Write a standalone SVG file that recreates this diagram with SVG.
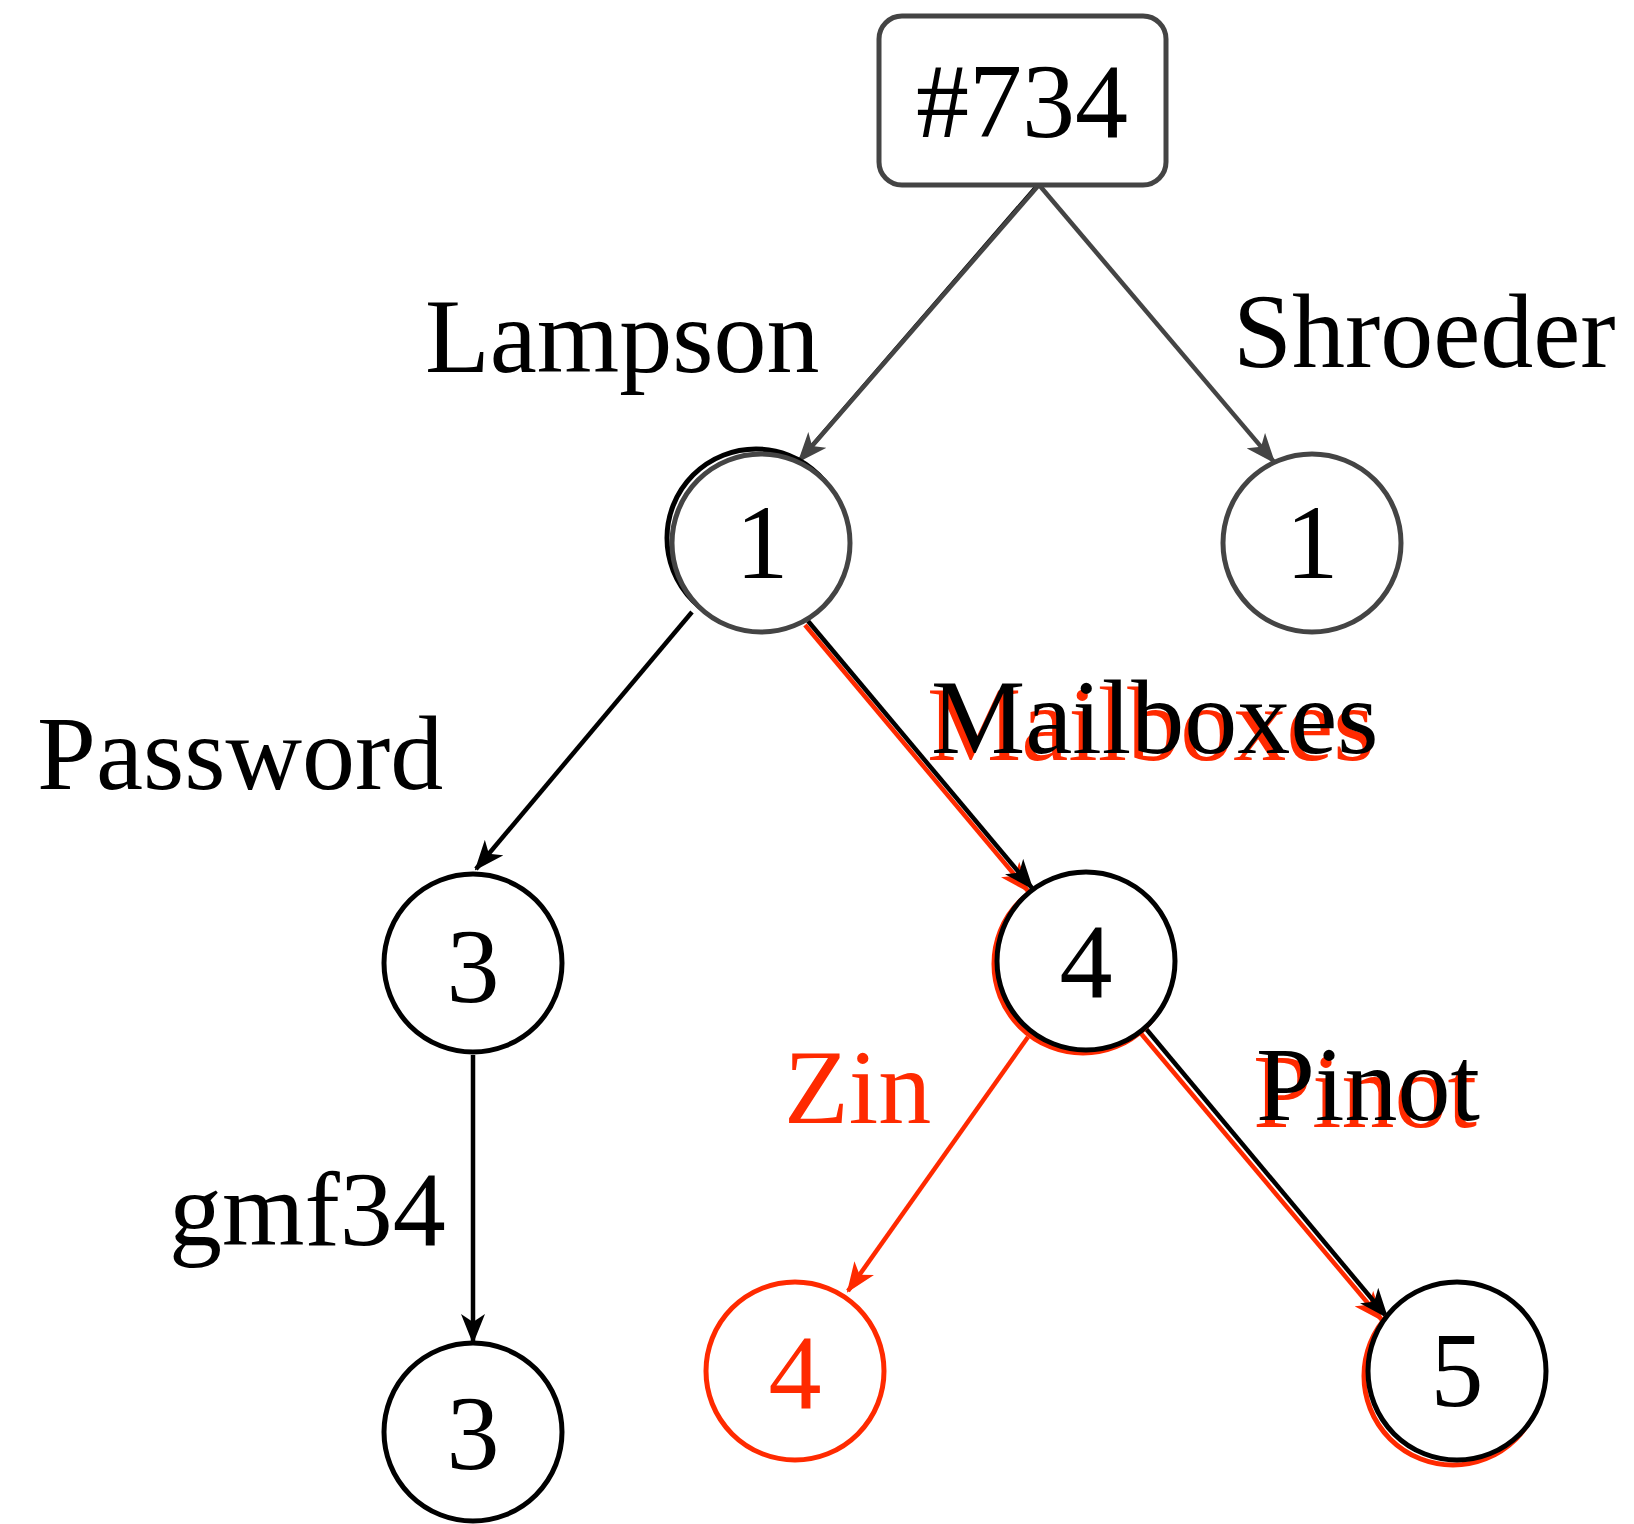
<svg xmlns="http://www.w3.org/2000/svg" width="1634" height="1524" viewBox="0 0 1634 1524">
<style>
  text { font-family: "Liberation Serif", "Times New Roman", serif; font-size: 106px; }
  .k { fill: #000; }
  .r { fill: #ff2a00; }
  .num { text-anchor: middle; }
  .cg { fill: #fff; stroke: #444; stroke-width: 5; }
  .ck { fill: #fff; stroke: #000; stroke-width: 5; }
  .cr { fill: #fff; stroke: #ff2a00; stroke-width: 5; }
  .eg { stroke: #444; stroke-width: 4.5; fill: none; marker-end: url(#ag); }
  .ek { stroke: #000; stroke-width: 4.5; fill: none; marker-end: url(#ak); }
  .er { stroke: #ff2a00; stroke-width: 4.5; fill: none; marker-end: url(#ar); }
</style>
<defs>
  <marker id="ag" viewBox="0 0 30 24" refX="28" refY="12" markerWidth="30" markerHeight="24" markerUnits="userSpaceOnUse" orient="auto">
    <path d="M0,0 L30,12 L0,24 L8,12 Z" fill="#444"/>
  </marker>
  <marker id="ak" viewBox="0 0 30 24" refX="28" refY="12" markerWidth="30" markerHeight="24" markerUnits="userSpaceOnUse" orient="auto">
    <path d="M0,0 L30,12 L0,24 L8,12 Z" fill="#000"/>
  </marker>
  <marker id="ar" viewBox="0 0 30 24" refX="28" refY="12" markerWidth="30" markerHeight="24" markerUnits="userSpaceOnUse" orient="auto">
    <path d="M0,0 L30,12 L0,24 L8,12 Z" fill="#ff2a00"/>
  </marker>
</defs>
<rect width="1634" height="1524" fill="#fff"/>

<g id="connectors">
  <line x1="1035" y1="188" x2="804" y2="455" stroke="#000" stroke-width="4"/>
  <line class="eg" x1="1038" y1="186" x2="799" y2="461"/>
  <line class="eg" x1="1040" y1="186" x2="1274" y2="462"/>
  <line class="ek" x1="692" y1="612" x2="476" y2="869"/>
  <line class="er" x1="805" y1="625" x2="1028" y2="891"/>
  <line class="ek" x1="808" y1="621" x2="1032" y2="888"/>
  <line class="ek" x1="473" y1="1055" x2="473" y2="1342"/>
  <line class="er" x1="1028" y1="1037" x2="848" y2="1291"/>
  <line class="er" x1="1138" y1="1030" x2="1382" y2="1320"/>
  <line class="ek" x1="1142" y1="1024" x2="1387" y2="1317"/>
  <line x1="1136" y1="1029" x2="1147" y2="1019" stroke="#000" stroke-width="4"/>
  <g id="edge-labels">
    <text class="k" x="425" y="372">Lampson</text>
    <text class="k" x="1233" y="367">Shroeder</text>
    <text class="k" x="37" y="789">Password</text>
    <text class="k" x="169" y="1245">gmf34</text>
    <text class="r" x="927" y="760">Mailboxes</text>
    <text class="k" x="931" y="753">Mailboxes</text>
    <text class="r" x="784" y="1123">Zin</text>
    <text class="r" x="1253" y="1127">Pinot</text>
    <text class="k" x="1256" y="1120">Pinot</text>
  </g>
</g>

<g id="node-734">
  <rect x="879" y="16" width="287" height="169" rx="23" ry="23" fill="#fff" stroke="#444" stroke-width="5"/>
  <text class="k num" x="1022" y="137">#734</text>
</g>
<g id="node-lampson-1">
  <circle class="ck" cx="756" cy="538" r="89"/>
  <circle class="cg" cx="761" cy="543" r="89"/>
  <text class="k num" x="762" y="578">1</text>
</g>
<g id="node-shroeder-1">
  <circle class="cg" cx="1312" cy="543" r="89"/>
  <text class="k num" x="1312" y="578">1</text>
</g>
<g id="node-password-3">
  <circle class="ck" cx="473" cy="963" r="89"/>
  <text class="k num" x="473" y="1002">3</text>
</g>
<g id="node-mailboxes-4">
  <circle class="cr" cx="1083" cy="964" r="89"/>
  <circle class="ck" cx="1086" cy="961" r="89"/>
  <text class="k num" x="1086" y="997">4</text>
</g>
<g id="node-gmf34-3">
  <circle class="ck" cx="473" cy="1432" r="89"/>
  <text class="k num" x="473" y="1469">3</text>
</g>
<g id="node-zin-4">
  <circle class="cr" cx="795" cy="1371" r="89"/>
  <text class="r num" x="795" y="1408">4</text>
</g>
<g id="node-pinot-5">
  <circle class="cr" cx="1453" cy="1376" r="89"/>
  <circle class="ck" cx="1457" cy="1371" r="89"/>
  <text class="k num" x="1457" y="1406">5</text>
</g>
</svg>
